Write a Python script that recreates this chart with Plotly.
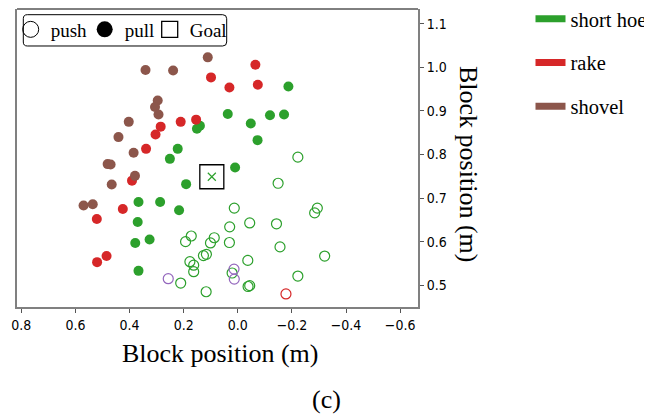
import plotly.graph_objects as go

# ---- data ----
shovel_pull_x = [0.111, 0.341, 0.239, 0.296, 0.306, 0.293, 0.403, 0.441, 0.385, 0.481, 0.470, 0.380, 0.466, 0.570, 0.536]
shovel_pull_y = [1.023, 0.994, 0.993, 0.924, 0.909, 0.892, 0.875, 0.840, 0.804, 0.778, 0.777, 0.751, 0.731, 0.683, 0.686]

rake_pull_x = [-0.065, 0.099, 0.031, -0.074, 0.211, 0.154, 0.285, 0.304, 0.339, 0.391, 0.425, 0.521, 0.485, 0.520]
rake_pull_y = [1.006, 0.977, 0.954, 0.960, 0.875, 0.880, 0.864, 0.846, 0.813, 0.740, 0.675, 0.652, 0.567, 0.553]

rake_push_x = [-0.178]
rake_push_y = [0.480]

hoe_pull_x = [-0.187, 0.037, 0.140, 0.151, -0.048, -0.119, -0.171, -0.073, 0.222, 0.251,
              0.010, 0.191, 0.367, 0.287, 0.217, 0.370, 0.379, 0.326, 0.367]
hoe_pull_y = [0.956, 0.893, 0.866, 0.859, 0.871, 0.890, 0.892, 0.833, 0.813, 0.790,
              0.770, 0.732, 0.691, 0.691, 0.672, 0.645, 0.597, 0.605, 0.533]

hoe_push_x = [-0.222, -0.149, 0.013, -0.294, -0.284, -0.044, -0.143, 0.030, 0.087, 0.101,
              0.031, 0.172, 0.193, -0.156, -0.321, 0.127, 0.116, 0.177, 0.163, 0.163,
              -0.037, 0.021, -0.222, -0.038, -0.044, 0.211, 0.117]
hoe_push_y = [0.794, 0.734, 0.677, 0.677, 0.666, 0.643, 0.641, 0.634, 0.609, 0.597,
              0.598, 0.613, 0.600, 0.588, 0.567, 0.568, 0.571, 0.554, 0.546, 0.531,
              0.557, 0.528, 0.521, 0.497, 0.499, 0.505, 0.485]

other_push_x = [0.257, 0.014, 0.013]
other_push_y = [0.515, 0.537, 0.514]

goal_x = [0.096]
goal_y = [0.749]

tool_names = ["short hoe", "rake", "shovel"]
tool_colors = ["#2ca02c", "#d62728", "#8c564b"]
other_color = "#9467bd"

x_ticks = [0.8, 0.6, 0.4, 0.2, 0.0, -0.2, -0.4, -0.6]
y_ticks = [0.5, 0.6, 0.7, 0.8, 0.9, 1.0, 1.1]

SERIF = "Liberation Serif, Times New Roman, serif"
SANS = "DejaVu Sans Condensed, Liberation Sans Narrow, DejaVu Sans, sans-serif"
MS = 10

# the page body has an 8px default margin, so the figure is 8px smaller
OFF = 8
W, H = 652 - OFF, 415 - OFF
ML, MR, MT, MB = 9, 234, 1, 108
PW, PH = W - ML - MR, H - MT - MB

fig = go.Figure()


def pts(x, y, color, filled, name):
    if filled:
        marker = dict(symbol="circle", size=MS, color=color, line=dict(width=0))
    else:
        marker = dict(symbol="circle-open", size=MS, color=color, line=dict(width=1.2, color=color))
    fig.add_trace(go.Scatter(x=x, y=y, mode="markers", marker=marker, name=name,
                             showlegend=False, hoverinfo="x+y+name"))


pts(hoe_push_x, hoe_push_y, tool_colors[0], False, "short hoe push")
pts(other_push_x, other_push_y, other_color, False, "other push")
pts(rake_push_x, rake_push_y, tool_colors[1], False, "rake push")
pts(hoe_pull_x, hoe_pull_y, tool_colors[0], True, "short hoe pull")
pts(rake_pull_x, rake_pull_y, tool_colors[1], True, "rake pull")
pts(shovel_pull_x, shovel_pull_y, tool_colors[2], True, "shovel pull")

# legend 1: push / pull / Goal
fig.add_trace(go.Scatter(x=[None], y=[None], mode="markers", name="push",
                         marker=dict(symbol="circle-open", size=16, color="black", line=dict(width=1, color="black")),
                         legend="legend", legendwidth=29))
fig.add_trace(go.Scatter(x=[None], y=[None], mode="markers", name="pull",
                         marker=dict(symbol="circle", size=16, color="black"),
                         legend="legend", legendwidth=20))
fig.add_trace(go.Scatter(x=goal_x, y=goal_y, mode="markers", name="Goal",
                         marker=dict(symbol="square-open", size=24, color="black", line=dict(width=1.3, color="black")),
                         legend="legend"))
fig.add_trace(go.Scatter(x=goal_x, y=goal_y, mode="markers", name="Goal x", showlegend=False,
                         marker=dict(symbol="x-thin-open", size=8, color=tool_colors[0],
                                     line=dict(width=1.2, color=tool_colors[0]))))

# legend 2: tools
for i, (nm, col) in enumerate(zip(tool_names, tool_colors)):
    fig.add_trace(go.Scatter(x=[None], y=[None], mode="lines", name=nm,
                             line=dict(color=col, width=7), legend="legend2",
                             legendgroup="g%d" % i))


def ref2paper(px, py):
    """page pixel (as in the reference) -> paper coordinates"""
    return (px - OFF - ML) / PW, (OFF + H - MB - py) / PH


def rounded_box(x0, y0, x1, y1, r):
    def P(px, py):
        a, b = ref2paper(px, py)
        return "%.5f,%.5f" % (a, b)
    return "M %s L %s Q %s %s L %s Q %s %s L %s Q %s %s L %s Q %s %s Z" % (
        P(x0 + r, y0), P(x1 - r, y0), P(x1, y0), P(x1, y0 + r),
        P(x1, y1 - r), P(x1, y1), P(x1 - r, y1),
        P(x0 + r, y1), P(x0, y1), P(x0, y1 - r),
        P(x0, y0 + r), P(x0, y0), P(x0 + r, y0))


legend_box = rounded_box(23.3, 14.7, 226.7, 46.0, 4)

xt_x, xt_y = ref2paper(220, 353)
yt_x, yt_y = ref2paper(469, 164)
c_x, c_y = ref2paper(326, 399)
l1_x, l1_y = ref2paper(10.7, 10.5)
l2_x, l2_y = ref2paper(530.5, -1.0)

fig.update_layout(
    width=W, height=H,
    margin=dict(l=ML, r=MR, t=MT, b=MB, autoexpand=False),
    paper_bgcolor="white", plot_bgcolor="white",
    showlegend=True,
    legend=dict(orientation="h", x=l1_x, xanchor="left", y=l1_y, yanchor="top",
                bgcolor="rgba(0,0,0,0)", borderwidth=0,
                font=dict(family=SERIF, size=19, color="black"),
                itemsizing="trace"),
    legend2=dict(orientation="v", x=l2_x, xanchor="left", y=l2_y, yanchor="top",
                 bgcolor="rgba(0,0,0,0)", borderwidth=0,
                 font=dict(family=SERIF, size=20.5, color="black"),
                 tracegroupgap=14),
    xaxis=dict(range=[0.816, -0.666], tickvals=x_ticks, tickformat=".1f",
               ticks="outside", ticklen=4, tickwidth=1, tickcolor="#555555",
               showline=True, linecolor="#808080", linewidth=2,
               showgrid=False, zeroline=False,
               tickfont=dict(family=SANS, size=14, color="black")),
    yaxis=dict(range=[0.450, 1.134], tickvals=y_ticks, tickformat=".1f", side="right",
               ticks="outside", ticklen=4, tickwidth=1, tickcolor="#555555",
               showline=True, linecolor="#808080", linewidth=2, mirror=True,
               showgrid=False, zeroline=False,
               tickfont=dict(family=SANS, size=14, color="black")),
    shapes=[
        dict(type="line", xref="paper", yref="paper", x0=0, x1=1, y0=1, y1=1,
             line=dict(color="black", width=1)),
        dict(type="path", xref="paper", yref="paper", path=legend_box,
             fillcolor="white", line=dict(color="black", width=1), layer="above"),
    ],
    annotations=[
        dict(text="Block position (m)", xref="paper", yref="paper", x=xt_x, y=xt_y,
             xanchor="center", yanchor="middle", showarrow=False,
             font=dict(family=SERIF, size=26, color="black")),
        dict(text="Block position (m)", xref="paper", yref="paper", x=yt_x, y=yt_y,
             xanchor="center", yanchor="middle", showarrow=False, textangle=90,
             font=dict(family=SERIF, size=26, color="black")),
        dict(text="(c)", xref="paper", yref="paper", x=c_x, y=c_y,
             xanchor="center", yanchor="middle", showarrow=False,
             font=dict(family=SERIF, size=26, color="black")),
    ],
)

fig.write_html("out.html")
